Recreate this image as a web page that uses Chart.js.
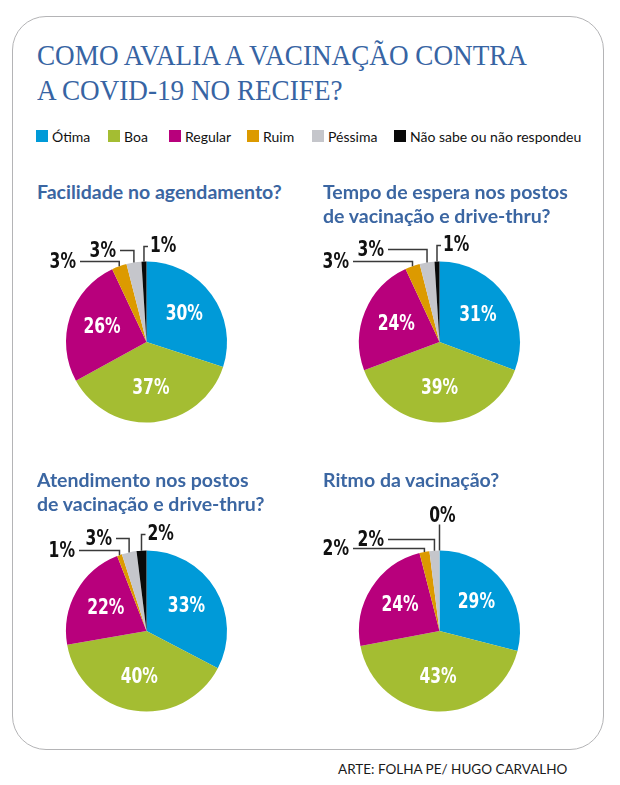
<!DOCTYPE html>
<html>
<head>
<meta charset="utf-8">
<script src="https://cdn.jsdelivr.net/npm/chart.js@4.4.0/dist/chart.umd.min.js"></script>
<style>
  html, body { margin: 0; padding: 0; background: #fff; }
  #page { position: relative; width: 620px; height: 785px; overflow: hidden; }
  #box {
    position: absolute; left: 12px; top: 16px; width: 590px; height: 732px;
    border: 1.5px solid #b4b4b6; border-radius: 34px;
  }
  .title {
    position: absolute; left: 37px; white-space: nowrap;
    font-family: "Liberation Serif", "DejaVu Serif", serif; font-size: 29px;
    line-height: 35px; color: #3764a3; transform-origin: 0 0;
  }
  .sq { position: absolute; top: 130px; width: 12px; height: 12px; }
  .lg {
    position: absolute; top: 130px; white-space: nowrap;
    font-family: Lato, "Open Sans", sans-serif; font-size: 14px; line-height: 14px; color: #111;
  }
  .sub {
    position: absolute; z-index: 2; white-space: nowrap;
    font-family: Lato, "Open Sans", sans-serif; font-weight: bold; font-size: 19.5px;
    line-height: 24px; color: #3b66a2;
  }
  canvas { position: absolute; z-index: 1; }
  #credit {
    position: absolute; left: 338px; top: 763px; white-space: nowrap;
    font-family: Lato, "Open Sans", sans-serif; font-size: 13.5px; line-height: 13px; color: #1a1a1a;
  }
</style>
</head>
<body>
<div id="page">
  <div id="box"></div>
  <div class="title" id="t1" style="top:38px">COMO AVALIA A VACINAÇÃO CONTRA</div>
  <div class="title" id="t2" style="top:73px">A COVID-19 NO RECIFE?</div>
  <div id="legend"></div>
  <div id="charts"></div>
  <div id="credit">ARTE: FOLHA PE/ HUGO CARVALHO</div>
</div>
<script>
// categorias e valores (%)
const categories = ["Ótima", "Boa", "Regular", "Ruim", "Péssima", "Não sabe ou não respondeu"];
const agendamento = [30, 37, 26, 3, 3, 1];
const tempoEspera = [31, 39, 24, 3, 3, 1];
const atendimento = [33, 40, 22, 1, 3, 2];
const ritmo = [29, 43, 24, 2, 2, 0];
const questions = [
    "Facilidade no agendamento?",
    "Tempo de espera nos postos<br>de vacinação e drive-thru?",
    "Atendimento nos postos<br>de vacinação e drive-thru?",
    "Ritmo da vacinação?"
];

const colors = ["#009ad8", "#a4bd32", "#b8007c", "#dc9a00", "#c5c6cb", "#0a0a0a"];
const legendX = [36, 108, 169, 247, 312, 394];

// posições dos gráficos (centro da pizza) e das linhas de chamada
const pies = [
    { cx: 146.5, cy: 342, sub: [37, 180],
      leaders: [null, null, null, { side: "left", dy: 0, x: -66.5 }, { side: "left", dy: -11, x: -26.5 }, { side: "right", dy: -15 }] },
    { cx: 439.5, cy: 342, sub: [323, 180],
      leaders: [null, null, null, { side: "left", dy: 0, x: -86.5 }, { side: "left", dy: -12, x: -51.5 }, { side: "right", dy: -16 }] },
    { cx: 146.5, cy: 631, sub: [37, 468],
      leaders: [null, null, null, { side: "left", dy: 0, x: -67.5 }, { side: "left", dy: -12, x: -30.5 }, { side: "right", dy: -16 }] },
    { cx: 439.5, cy: 631, sub: [323, 468],
      leaders: [null, null, null, { side: "left", dy: -2, x: -86.5 }, { side: "left", dy: -11, x: -51.5 }, { side: "top", dy: -26 }] }
];
const seriesList = [agendamento, tempoEspera, atendimento, ritmo];

// legenda
const legend = document.getElementById("legend");
categories.forEach(function (c, i) {
    const sq = document.createElement("div");
    sq.className = "sq";
    sq.style.left = legendX[i] + "px";
    sq.style.background = colors[i];
    legend.appendChild(sq);
    const tx = document.createElement("div");
    tx.className = "lg";
    tx.style.left = (legendX[i] + 16) + "px";
    tx.textContent = c;
    legend.appendChild(tx);
});

// título estreito
const t1 = document.getElementById("t1");
const k = 490 / t1.getBoundingClientRect().width;
document.querySelectorAll(".title").forEach(function (el) {
    el.style.transform = "scaleX(" + k + ")";
});

// texto condensado (fonte larga comprimida)
function narrowText(ctx, txt, x, y, align) {
    ctx.save();
    ctx.translate(x, y);
    ctx.scale(0.74, 1);
    ctx.textAlign = align;
    ctx.fillText(txt, 0, 0);
    ctx.restore();
}

// rótulos de porcentagem
const pctLabels = {
    id: "pctLabels",
    afterDatasetsDraw(chart, args, opts) {
        const ctx = chart.ctx;
        const meta = chart.getDatasetMeta(0);
        const values = chart.data.datasets[0].data;
        ctx.save();
        ctx.font = 'bold 21px "DejaVu Sans", sans-serif';
        ctx.textBaseline = "middle";
        meta.data.forEach(function (arc, i) {
            const p = arc.getProps(["x", "y", "startAngle", "endAngle", "outerRadius"], true);
            const mid = (p.startAngle + p.endAngle) / 2;
            const txt = values[i] + "%";
            const L = opts.leaders[i];
            if (!L) {
                const r = p.outerRadius * 0.58;
                ctx.fillStyle = "#fff";
                narrowText(ctx, txt, p.x + Math.cos(mid) * r, p.y + Math.sin(mid) * r, "center");
                return;
            }
            const ex = p.x + Math.cos(mid) * p.outerRadius;
            const ey = p.y + Math.sin(mid) * p.outerRadius;
            const ly = p.y - p.outerRadius + L.dy;
            ctx.strokeStyle = "#3a3a3a";
            ctx.lineWidth = 1.5;
            ctx.fillStyle = "#111";
            ctx.beginPath();
            ctx.moveTo(ex, ey);
            ctx.lineTo(ex, ly);
            if (L.side === "left") {
                const endX = p.x + L.x;
                ctx.lineTo(endX, ly);
                ctx.stroke();
                narrowText(ctx, txt, endX - 4, ly + 1, "right");
            } else if (L.side === "right") {
                ctx.lineTo(ex + 4, ly);
                ctx.stroke();
                narrowText(ctx, txt, ex + 6, ly, "left");
            } else {
                ctx.stroke();
                ctx.textBaseline = "bottom";
                narrowText(ctx, txt, ex + 3, ly + 3, "center");
                ctx.textBaseline = "middle";
            }
        });
        ctx.restore();
    }
};

const holder = document.getElementById("charts");
pies.forEach(function (pie, n) {
    const sub = document.createElement("div");
    sub.className = "sub";
    sub.style.left = pie.sub[0] + "px";
    sub.style.top = pie.sub[1] + "px";
    sub.innerHTML = questions[n];
    holder.appendChild(sub);

    const cv = document.createElement("canvas");
    cv.width = 291;
    cv.height = 260;
    cv.style.width = "291px";
    cv.style.height = "260px";
    cv.style.left = (pie.cx - 145.5) + "px";
    cv.style.top = (pie.cy - 130) + "px";
    holder.appendChild(cv);

    new Chart(cv, {
        type: "pie",
        data: {
            labels: categories,
            datasets: [{
                data: seriesList[n],
                backgroundColor: colors,
                borderWidth: 0,
                hoverOffset: 0
            }]
        },
        options: {
            responsive: false,
            animation: false,
            radius: 80.5,
            layout: { padding: 0 },
            plugins: {
                legend: { display: false },
                tooltip: { enabled: false },
                pctLabels: { leaders: pie.leaders }
            }
        },
        plugins: [pctLabels]
    });
});
</script>
</body>
</html>
